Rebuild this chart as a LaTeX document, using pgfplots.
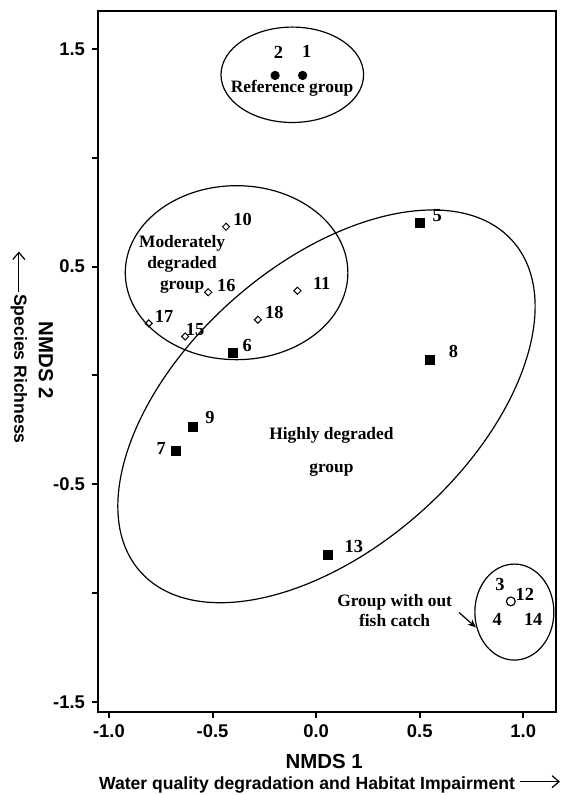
\documentclass[border=0pt]{standalone}
\usepackage{fontspec}
\setmainfont{Liberation Serif}
\setsansfont{Liberation Sans}
\usepackage{pgfplots}
\pgfplotsset{compat=1.18}
\usetikzlibrary{shapes.geometric,arrows.meta}
\begin{document}
\begin{tikzpicture}
\begin{axis}[name=ax,
  width=229pt, height=350.5pt, scale only axis,
  xmin=-1.053, xmax=1.158, ymin=-1.546, ymax=1.674,
  clip=false,
  axis line style={line width=1pt},
  tick style={line width=1pt, black},
  major tick length=3pt,
  tick align=outside,
  xtick pos=bottom, ytick pos=left,
  xtick={-1,-0.5,0,0.5,1},
  xticklabels={-1.0,-0.5,0.0,0.5,1.0},
  ytick={-1.5,-1,-0.5,0,0.5,1,1.5},
  yticklabels={-1.5,,-0.5,,0.5,,1.5},
  ticklabel style={font=\sffamily\bfseries\fontsize{9.2}{10}\selectfont},
]
% Reference group
\addplot[only marks, mark=*, mark size=2.1pt, black] coordinates {(-0.198,1.378) (-0.065,1.378)};
% Highly degraded group
\addplot[only marks, mark=square*, mark size=2.25pt, black] coordinates {
(0.501,0.699) (-0.403,0.102) (0.550,0.072) (-0.594,-0.235) (-0.677,-0.346) (0.058,-0.826)};
% Moderately degraded group
\addplot[only marks, mark=square, mark size=1.25pt, black, mark options={rotate=45, line width=0.5pt, fill=white}] coordinates {
(-0.435,0.683) (-0.521,0.382) (-0.090,0.389) (-0.281,0.256) (-0.808,0.239) (-0.632,0.179)};
% Group without fish catch
\addplot[only marks, mark=o, mark size=2.2pt, black, mark options={line width=0.6pt}] coordinates {(0.940,-1.038)};

% ellipses
\node[draw, ellipse, line width=0.6pt, inner sep=0pt, minimum width=71.3pt, minimum height=47.7pt] at (axis cs:-0.115,1.381) {};
\node[draw, ellipse, line width=0.6pt, inner sep=0pt, minimum width=111.3pt, minimum height=87pt] at (axis cs:-0.384,0.472) {};
\node[draw, ellipse, line width=0.6pt, inner sep=0pt, minimum width=249pt, minimum height=141.7pt, rotate=41.6] at (axis cs:0.050,-0.142) {};
\node[draw, ellipse, line width=0.6pt, inner sep=0pt, minimum width=39.5pt, minimum height=48pt] at (axis cs:0.957,-1.087) {};

% point labels
\begin{scope}[every node/.style={font=\bfseries\fontsize{9.2}{11}\selectfont, inner sep=0pt}]
\node at (axis cs:-0.182,1.486) {2};
\node at (axis cs:-0.045,1.486) {1};
\node at (axis cs:-0.355,0.716) {10};
\node at (axis cs:-0.433,0.413) {16};
\node at (axis cs:0.027,0.421) {11};
\node at (axis cs:-0.202,0.288) {18};
\node at (axis cs:-0.734,0.269) {17};
\node at (axis cs:-0.584,0.211) {15};
\node at (axis cs:-0.332,0.139) {6};
\node at (axis cs:0.585,0.735) {5};
\node at (axis cs:0.663,0.110) {8};
\node at (axis cs:-0.513,-0.194) {9};
\node at (axis cs:-0.748,-0.336) {7};
\node at (axis cs:0.182,-0.788) {13};
\node at (axis cs:0.887,-0.959) {3};
\node at (axis cs:1.008,-1.005) {12};
\node at (axis cs:0.874,-1.119) {4};
\node at (axis cs:1.048,-1.119) {14};
\end{scope}
% group labels
\begin{scope}[every node/.style={font=\bfseries\fontsize{8.7}{10.5}\selectfont, inner sep=0pt, align=center}]
\node at (axis cs:-0.116,1.320) {Reference group};
\node at (axis cs:-0.647,0.510) {Moderately\\degraded\\group};
\node[font=\bfseries\fontsize{8.7}{16.5}\selectfont] at (axis cs:0.074,-0.353) {Highly degraded\\group};
\node[font=\bfseries\fontsize{8.7}{10}\selectfont] at (axis cs:0.379,-1.078) {Group with out\\fish catch};
\end{scope}
\draw[-{Stealth[length=4pt,width=3.5pt]}, line width=0.6pt] (axis cs:0.690,-1.089) -- (axis cs:0.771,-1.157);

% axis titles
\node[font=\sffamily\bfseries\fontsize{10.2}{12}\selectfont, inner sep=0pt] at (axis cs:0.039,-1.774) {NMDS 1};
\node[font=\sffamily\bfseries\fontsize{8.8}{10}\selectfont, inner sep=0pt] at (axis cs:-0.044,-1.879) {Water quality degradation and Habitat Impairment};
\draw[-{Straight Barb[length=3.5pt,width=6pt]}, line width=0.6pt] (axis cs:0.984,-1.866) -- (axis cs:1.177,-1.866);
\node[font=\sffamily\bfseries\fontsize{10.2}{12}\selectfont, inner sep=0pt, rotate=-90] at (axis cs:-1.305,0.069) {NMDS 2};
\node[font=\sffamily\bfseries\fontsize{8.8}{10}\selectfont, inner sep=0pt, rotate=-90] at (axis cs:-1.435,0.030) {Species Richness};
\draw[-{Straight Barb[length=3.5pt,width=6pt]}, line width=0.6pt] (axis cs:-1.435,0.381) -- (axis cs:-1.435,0.569);
\end{axis}
\pgfresetboundingbox
\path[use as bounding box] ([shift={(-49pt,-41.5pt)}]ax.south west) rectangle ([shift={(2.5pt,5.5pt)}]ax.north east);
\end{tikzpicture}
\end{document}
